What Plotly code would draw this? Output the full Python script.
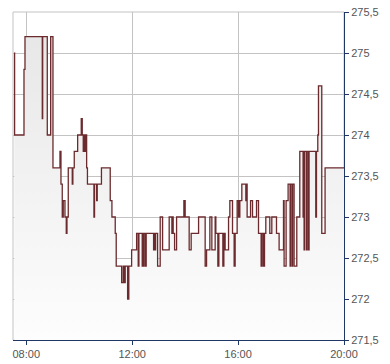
import plotly.graph_objects as go

DAY = "2024-01-02 "

times = [
    "07:32:57", "07:33:37", "07:54:54", "07:57:10", "08:36:20", "08:37:15", "08:47:40", "08:55:22",
    "09:00:34", "09:16:25", "09:18:41", "09:21:37", "09:23:53", "09:27:44", "09:30:41", "09:32:16",
    "09:35:13", "09:44:16", "09:45:38", "09:48:48", "09:56:29", "10:04:38", "10:06:55", "10:09:10",
    "10:10:46", "10:13:01", "10:15:17", "10:16:52", "10:18:41", "10:33:24", "10:34:46", "10:39:31",
    "10:40:52", "10:50:23", "11:10:19", "11:14:10", "11:21:38", "11:23:53", "11:36:07", "11:39:44",
    "11:42:01", "11:44:16", "11:49:42", "11:52:25", "11:58:46", "12:10:05", "12:13:42", "12:15:17",
    "12:22:46", "12:24:21", "12:25:56", "12:27:17", "12:30:28", "12:31:49", "12:48:34", "12:49:56",
    "12:51:31", "12:53:06", "12:57:38", "13:03:31", "13:08:57", "13:23:53", "13:30:01", "13:31:35",
    "13:32:57", "13:36:07", "13:40:39", "13:57:11", "14:00:07", "14:09:11", "14:13:43", "14:30:28",
    "14:45:25", "14:48:35", "14:56:03", "15:00:35", "15:08:03", "15:09:38", "15:14:10", "15:16:26",
    "15:25:29", "15:27:45", "15:30:41", "15:38:23", "15:41:20", "15:47:26", "15:51:04", "15:53:20",
    "15:57:52", "16:01:02", "16:03:58", "16:08:30", "16:17:34", "16:19:08", "16:20:30", "16:28:12",
    "16:32:44", "16:41:47", "16:46:19", "16:52:12", "16:54:28", "16:57:38", "16:59:54", "17:02:50",
    "17:11:54", "17:16:26", "17:27:04", "17:32:58", "17:42:55", "17:44:17", "17:48:49", "17:53:20",
    "17:57:52", "17:58:59", "18:02:23", "18:03:31", "18:06:55", "18:13:02", "18:19:50", "18:27:18",
    "18:28:26", "18:29:34", "18:30:55", "18:35:00", "18:36:21", "18:39:31", "18:40:53", "18:56:03",
    "18:57:38", "19:00:35", "19:02:10", "19:09:38", "19:17:07", "20:00:00",
]

prices = [
    275.0, 274.0, 274.8, 275.2, 274.2, 275.2, 274.0, 275.2,
    273.6, 273.8, 273.4, 273.0, 273.2, 273.0, 272.8, 273.0,
    273.6, 273.4, 273.6, 273.8, 274.0, 274.2, 274.0, 273.8,
    274.0, 273.8, 274.0, 273.6, 273.4, 273.0, 273.4, 273.2,
    273.4, 273.6, 273.2, 273.0, 272.8, 272.4, 272.2, 272.4,
    272.2, 272.4, 272.0, 272.4, 272.6, 272.8, 272.4, 272.8,
    272.4, 272.8, 272.4, 272.8, 272.4, 272.8, 272.6, 272.8,
    272.6, 272.8, 272.4, 273.0, 272.6, 273.0, 272.8, 273.0,
    272.8, 272.6, 273.0, 273.2, 273.0, 272.6, 272.8, 273.0,
    272.4, 272.6, 273.0, 272.6, 273.0, 272.8, 272.4, 272.8,
    272.4, 272.8, 272.6, 273.0, 273.2, 272.8, 272.4, 272.8,
    273.2, 273.0, 273.2, 273.4, 273.2, 273.4, 273.0, 273.2,
    273.0, 273.2, 272.8, 272.4, 272.8, 272.4, 272.8, 273.0,
    272.8, 273.0, 272.8, 272.6, 273.2, 272.4, 273.2, 273.4,
    272.4, 273.4, 272.4, 273.4, 272.4, 273.0, 273.8, 273.0,
    273.8, 272.6, 273.8, 272.6, 273.8, 272.6, 273.8, 273.0,
    273.8, 274.0, 274.6, 272.8, 273.6, 273.6,
]

x_range = ["07:30:00", "20:00:00"]
x_ticks = ["08:00", "12:00", "16:00", "20:00"]
y_ticks = [271.5, 272.0, 272.5, 273.0, 273.5, 274.0, 274.5, 275.0, 275.5]

LINE = "#6b2a2d"
NAVY = "#1e3766"
GRID = "#c3c3c3"
FONT = "Liberation Sans, Arial, sans-serif"

fig = go.Figure()
fig.add_trace(go.Scatter(
    x=[DAY + t for t in times],
    y=prices,
    mode="lines",
    line=dict(color=LINE, width=1.3, shape="hv"),
    fill="tozeroy",
    fillgradient=dict(type="vertical", start=y_ticks[0], stop=y_ticks[-1],
                      colorscale=[[0, "#fdfdfd"], [1, "#e6e6e6"]]),
    hoverinfo="skip",
    showlegend=False,
))

fig.update_layout(
    width=390, height=364,
    margin=dict(l=13, r=46, t=12, b=24, autoexpand=False),
    paper_bgcolor="white",
    plot_bgcolor="white",
    separators=",.",
    font=dict(family=FONT, size=11, color="#555555"),
    shapes=[dict(type="rect", xref="paper", yref="paper", x0=0, x1=1, y0=0, y1=1,
                 line=dict(color=GRID, width=1), layer="below")],
    xaxis=dict(
        type="date",
        range=[DAY + x_range[0], DAY + x_range[1]],
        tickvals=[DAY + t for t in x_ticks],
        ticktext=x_ticks,
        showgrid=True, gridcolor=GRID, gridwidth=1,
        showline=True, linecolor=NAVY, linewidth=1,
        ticks="outside", ticklen=4, tickcolor=NAVY,
        tickfont=dict(family=FONT, size=11, color="#555555"),
        zeroline=False, fixedrange=True, automargin=False,
    ),
    yaxis=dict(
        range=[y_ticks[0], y_ticks[-1]],
        side="right",
        tickvals=y_ticks,
        ticktext=[f"{v:g}".replace(".", ",") for v in y_ticks],
        showgrid=True, gridcolor=GRID, gridwidth=1,
        showline=True, linecolor=NAVY, linewidth=1,
        ticks="outside", ticklen=4, tickcolor=NAVY,
        tickfont=dict(family=FONT, size=11, color="#555555"),
        zeroline=False, fixedrange=True, automargin=False,
    ),
)

fig.write_html("out.html", config=dict(displayModeBar=False))
